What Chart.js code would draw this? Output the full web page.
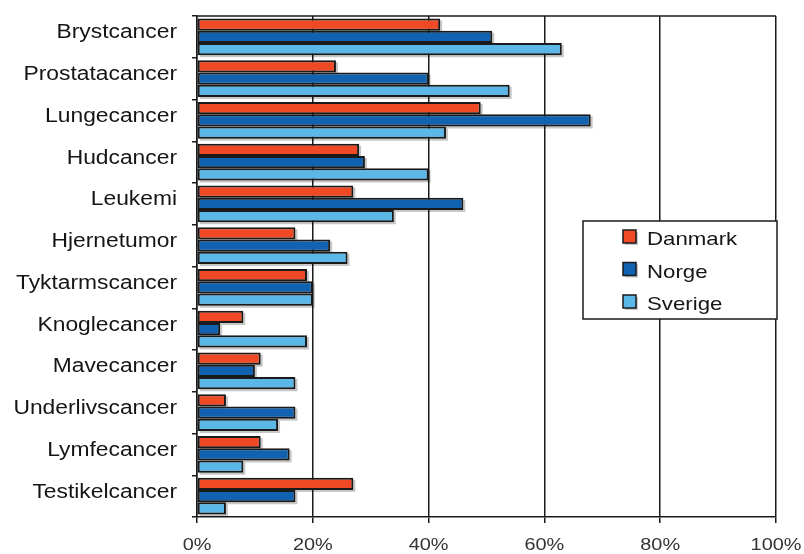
<!DOCTYPE html>
<html>
<head>
<meta charset="utf-8">
<script src="https://cdn.jsdelivr.net/npm/chart.js@4/dist/chart.umd.min.js"></script>
<style>
  html, body { margin: 0; padding: 0; background: #fff; }
  #wrap { width: 804px; height: 554px; }
</style>
</head>
<body>
<div id="wrap"><canvas id="c" width="804" height="554"></canvas></div>
<script>
// Cancer types (y categories)
const categories = [
  'Brystcancer', 'Prostatacancer', 'Lungecancer', 'Hudcancer', 'Leukemi',
  'Hjernetumor', 'Tyktarmscancer', 'Knoglecancer', 'Mavecancer',
  'Underlivscancer', 'Lymfecancer', 'Testikelcancer'
];
// Share per country, in percent
const danmark = [42, 24, 49, 28, 27, 17, 19, 8, 11, 5, 11, 27];
const norge   = [51, 40, 68, 29, 46, 23, 20, 4, 10, 17, 16, 17];
const sverige = [63, 54, 43, 40, 34, 26, 20, 19, 17, 14, 8, 5];
const seriesNames = ['Danmark', 'Norge', 'Sverige'];
const xTickValues = [0, 20, 40, 60, 80, 100];

const COLORS = ['#ef4a25', '#1262b2', '#5ab7e7'];
const INK = '#1a1a1a';
const TEXT = '#151515';
const FONT = '"Liberation Sans", Arial, sans-serif';
const STRETCH = 1.17;

function wideText(ctx, txt, x, y, align) {
  ctx.save();
  ctx.translate(x, y);
  ctx.scale(STRETCH, 1);
  ctx.textAlign = align;
  ctx.textBaseline = 'alphabetic';
  ctx.fillText(txt, 0, 0);
  ctx.restore();
}

// Soft drop shadow under each bar
const barShadow = {
  id: 'barShadow',
  beforeDatasetsDraw(chart) {
    const ctx = chart.ctx;
    ctx.save();
    ctx.fillStyle = 'rgba(0,0,0,0.22)';
    chart.data.datasets.forEach((ds, i) => {
      chart.getDatasetMeta(i).data.forEach(el => {
        const p = el.getProps(['x', 'y', 'base', 'height'], true);
        const x0 = Math.min(p.base, p.x), x1 = Math.max(p.base, p.x);
        ctx.fillRect(x0 + 2, p.y - p.height / 2 + 2, x1 - x0, p.height);
      });
    });
    ctx.restore();
  }
};

// Labels, frame and legend box
const decorations = {
  id: 'decorations',
  afterDraw(chart) {
    const ctx = chart.ctx;
    const area = chart.chartArea;
    const xs = chart.scales.x, ys = chart.scales.y;

    // top frame line
    ctx.save();
    ctx.strokeStyle = INK;
    ctx.lineWidth = 1.5;
    ctx.beginPath();
    ctx.moveTo(area.left, area.top);
    ctx.lineTo(area.right, area.top);
    ctx.stroke();

    // category labels
    ctx.fillStyle = TEXT;
    ctx.font = '19.5px ' + FONT;
    categories.forEach((c, i) => {
      wideText(ctx, c, area.left - 20, ys.getPixelForValue(i) + 1.5, 'right');
    });

    // percent labels
    ctx.fillStyle = '#333';
    ctx.font = '17px ' + FONT;
    xTickValues.forEach(v => {
      wideText(ctx, v + '%', xs.getPixelForValue(v), 550, 'center');
    });

    // legend
    const bx = 583, by = 221, bw = 194, bh = 98;
    ctx.fillStyle = '#fff';
    ctx.fillRect(bx, by, bw, bh);
    ctx.strokeStyle = INK;
    ctx.lineWidth = 1.5;
    ctx.strokeRect(bx, by, bw, bh);
    chart.data.datasets.forEach((ds, i) => {
      const cy = 237 + i * 32.5;
      ctx.fillStyle = 'rgba(0,0,0,0.22)';
      ctx.fillRect(625, cy - 5, 13, 13);
      ctx.fillStyle = ds.backgroundColor;
      ctx.fillRect(623, cy - 7, 13, 13);
      ctx.strokeStyle = INK;
      ctx.lineWidth = 1.5;
      ctx.strokeRect(623, cy - 7, 13, 13);
      ctx.fillStyle = TEXT;
      ctx.font = '19px ' + FONT;
      wideText(ctx, ds.label, 647, cy + 8, 'left');
    });
    ctx.restore();
  }
};

const seriesValues = [danmark, norge, sverige];

new Chart(document.getElementById('c'), {
  type: 'bar',
  data: {
    labels: categories,
    datasets: seriesNames.map((name, i) => ({
      label: name,
      data: seriesValues[i],
      backgroundColor: COLORS[i],
      borderColor: INK,
      borderWidth: 2,
      borderSkipped: false,
      categoryPercentage: 0.88,
      barPercentage: 1.0
    }))
  },
  options: {
    indexAxis: 'y',
    responsive: false,
    animation: false,
    devicePixelRatio: 1,
    layout: { padding: { left: 0, top: 16, right: 28, bottom: 0 } },
    plugins: {
      legend: { display: false },
      tooltip: { enabled: false }
    },
    scales: {
      x: {
        min: 0,
        max: 100,
        ticks: { display: false, stepSize: 20 },
        grid: { color: INK, lineWidth: 1.5, drawTicks: true, tickLength: 6 },
        border: { display: true, color: INK, width: 1.5 },
        afterFit(scale) { scale.height = 37; }
      },
      y: {
        ticks: { display: false },
        grid: { drawOnChartArea: false, drawTicks: true, tickLength: 5, color: INK, lineWidth: 1.5 },
        border: { display: true, color: INK, width: 1.5 },
        afterFit(scale) { scale.width = 197; }
      }
    }
  },
  plugins: [barShadow, decorations]
});
</script>
</body>
</html>
